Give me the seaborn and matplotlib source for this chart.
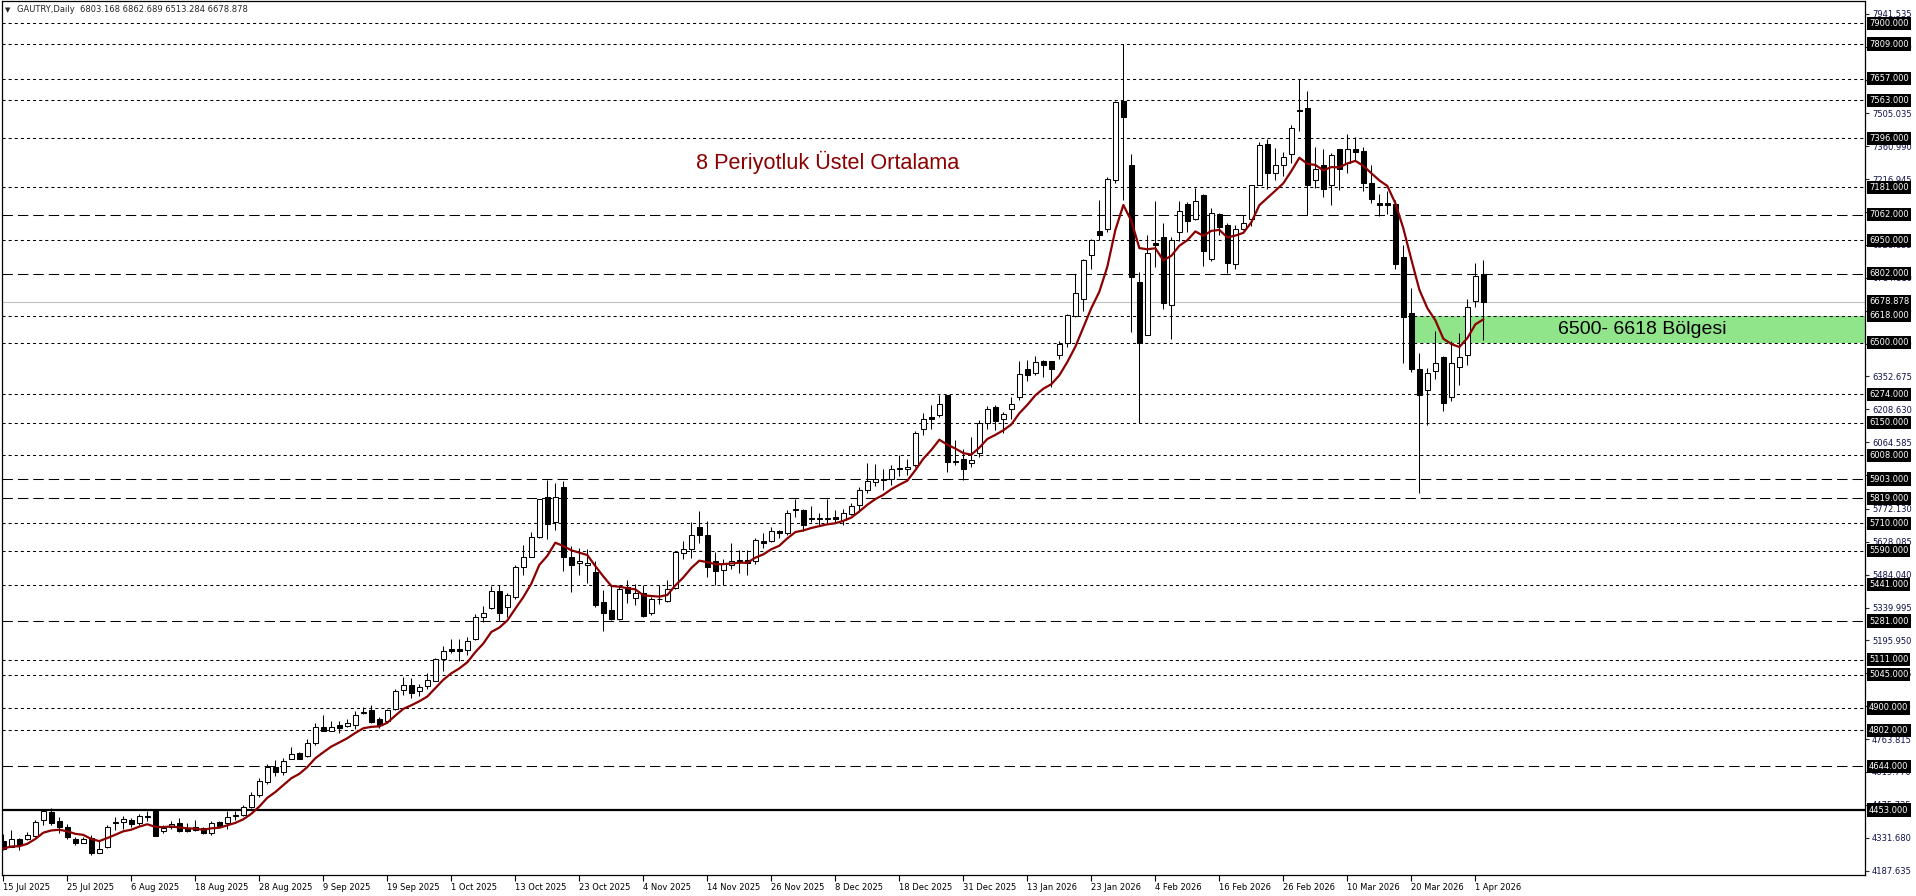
import numpy as np
import pandas as pd
import matplotlib
matplotlib.use("Agg")
import matplotlib.pyplot as plt
import matplotlib.transforms as mtransforms
import seaborn as sns

# ---------------- data (GAUTRY, Daily) ----------------
opens = [4316, 4292, 4327, 4324, 4339, 4409, 4444, 4403, 4380, 4325,
         4310, 4330, 4266, 4290, 4401, 4401, 4409, 4398, 4424, 4450,
         4362, 4380, 4395, 4374, 4377, 4374, 4354, 4401, 4395, 4427,
         4430, 4468, 4518, 4575, 4640, 4620, 4675, 4704, 4690, 4748,
         4815, 4801, 4824, 4821, 4827, 4879, 4891, 4853, 4841, 4897,
         4979, 5002, 4976, 4998, 5020, 5113, 5157, 5157, 5154, 5201,
         5297, 5338, 5411, 5341, 5385, 5516, 5563, 5648, 5826, 5715,
         5867, 5563, 5534, 5525, 5496, 5364, 5329, 5288, 5429, 5382,
         5402, 5315, 5376, 5367, 5426, 5581, 5598, 5694, 5657, 5545,
         5505, 5528, 5545, 5548, 5545, 5630, 5633, 5674, 5668, 5773,
         5767, 5732, 5732, 5726, 5735, 5724, 5750, 5788, 5855, 5890,
         5905, 5902, 5952, 5949, 5963, 6121, 6174, 6182, 6270, 5984,
         5989, 5972, 6016, 6150, 6220, 6165, 6209, 6264, 6384, 6366,
         6422, 6419, 6445, 6498, 6618, 6693, 6883, 6988, 6999, 7213,
         7561, 7278, 6766, 6533, 6936, 6962, 6667, 6986, 7108, 7044,
         7146, 6869, 7064, 7015, 6845, 6997, 7044, 7193, 7371, 7246,
         7278, 7327, 7520, 7529, 7213, 7278, 7190, 7348, 7286, 7348,
         7342, 7202, 7111, 7111, 7108, 6877, 6629, 6384, 6293, 6375,
         6436, 6261, 6396, 6445, 6682, 6803.168]
highs = [4348, 4365, 4330, 4357, 4409, 4456, 4462, 4421, 4392, 4336,
         4336, 4342, 4322, 4386, 4424, 4427, 4418, 4436, 4447, 4453,
         4389, 4406, 4418, 4398, 4409, 4380, 4403, 4403, 4447, 4447,
         4476, 4530, 4595, 4655, 4670, 4680, 4728, 4707, 4766, 4833,
         4868, 4844, 4842, 4853, 4885, 4903, 4912, 4859, 4897, 4982,
         5037, 5031, 5005, 5055, 5119, 5172, 5201, 5204, 5210, 5312,
         5347, 5435, 5437, 5402, 5525, 5613, 5671, 5817, 5899, 5887,
         5893, 5610, 5601, 5598, 5543, 5417, 5437, 5437, 5461, 5443,
         5437, 5385, 5437, 5461, 5586, 5630, 5715, 5765, 5721, 5583,
         5554, 5621, 5592, 5592, 5645, 5665, 5695, 5680, 5768, 5814,
         5770, 5785, 5753, 5814, 5768, 5773, 5800, 5867, 5972, 5969,
         5946, 5966, 6007, 5990, 6115, 6191, 6226, 6273, 6273, 6074,
         6036, 6089, 6162, 6223, 6226, 6197, 6264, 6419, 6425, 6442,
         6425, 6422, 6507, 6626, 6802, 6866, 6956, 7126, 7228, 7561,
         7809, 7327, 6810, 6971, 7120, 7024, 6965, 7120, 7117, 7178,
         7152, 7091, 7070, 7024, 7018, 7062, 7193, 7380, 7395, 7354,
         7336, 7453, 7654, 7605, 7359, 7348, 7330, 7351, 7415, 7400,
         7359, 7278, 7152, 7164, 7126, 6927, 6740, 6454, 6390, 6553,
         6442, 6507, 6544, 6691, 6848, 6862.689]
lows = [4278, 4290, 4278, 4322, 4336, 4389, 4389, 4354, 4327, 4298,
        4307, 4257, 4266, 4287, 4365, 4371, 4380, 4386, 4406, 4339,
        4354, 4368, 4357, 4357, 4360, 4348, 4345, 4380, 4371, 4409,
        4427, 4460, 4510, 4565, 4600, 4605, 4675, 4675, 4687, 4739,
        4798, 4798, 4789, 4815, 4809, 4874, 4833, 4812, 4836, 4891,
        4958, 4944, 4953, 4985, 5017, 5064, 5142, 5104, 5134, 5198,
        5277, 5335, 5280, 5300, 5379, 5484, 5560, 5645, 5639, 5680,
        5502, 5408, 5484, 5449, 5344, 5236, 5285, 5285, 5361, 5350,
        5300, 5309, 5356, 5364, 5423, 5554, 5557, 5624, 5475, 5440,
        5437, 5510, 5493, 5484, 5530, 5601, 5627, 5645, 5659, 5738,
        5677, 5715, 5700, 5706, 5709, 5700, 5744, 5759, 5841, 5873,
        5855, 5876, 5917, 5922, 5955, 6095, 6121, 6174, 5934, 5963,
        5899, 5957, 6001, 6121, 6118, 6103, 6168, 6249, 6334, 6360,
        6352, 6308, 6431, 6480, 6615, 6641, 6825, 6950, 6986, 7199,
        7126, 6547, 6147, 6533, 6831, 6650, 6518, 6948, 6986, 7038,
        6837, 6860, 6971, 6804, 6822, 6994, 7012, 7190, 7175, 7213,
        7231, 7289, 7430, 7059, 7178, 7140, 7102, 7170, 7246, 7301,
        7164, 7111, 7056, 7064, 6825, 6410, 6372, 5840, 6140, 6340,
        6200, 6244, 6314, 6401, 6658, 6513.284]
closes = [4284, 4325, 4298, 4342, 4400, 4450, 4398, 4377, 4336, 4310,
          4328, 4263, 4284, 4377, 4395, 4412, 4392, 4427, 4427, 4339,
          4374, 4392, 4360, 4360, 4365, 4351, 4395, 4383, 4424, 4433,
          4468, 4520, 4580, 4640, 4620, 4668, 4698, 4678, 4745, 4815,
          4798, 4818, 4812, 4833, 4871, 4883, 4839, 4827, 4891, 4976,
          4999, 4967, 4991, 5023, 5116, 5151, 5151, 5148, 5195, 5300,
          5315, 5411, 5318, 5393, 5516, 5563, 5651, 5814, 5706, 5826,
          5560, 5525, 5543, 5534, 5353, 5318, 5288, 5420, 5402, 5402,
          5303, 5379, 5379, 5420, 5583, 5595, 5659, 5657, 5516, 5499,
          5531, 5543, 5548, 5537, 5636, 5624, 5674, 5665, 5756, 5767,
          5703, 5726, 5726, 5732, 5726, 5756, 5785, 5855, 5893, 5902,
          5899, 5946, 5946, 5958, 6103, 6168, 6165, 6232, 5978, 5978,
          5946, 5987, 6147, 6212, 6159, 6188, 6232, 6363, 6357, 6416,
          6401, 6387, 6495, 6620, 6717, 6863, 6950, 6974, 7219, 7555,
          7488, 6790, 6498, 6892, 6930, 6676, 6951, 7079, 7035, 7123,
          6901, 7067, 7009, 6848, 6997, 7024, 7190, 7365, 7246, 7278,
          7313, 7441, 7514, 7190, 7263, 7172, 7321, 7263, 7348, 7336,
          7199, 7129, 7102, 7102, 6845, 6615, 6387, 6270, 6369, 6413,
          6235, 6413, 6436, 6658, 6792, 6678.878]

holidays = ["2025-12-25", "2026-01-01"]
first_day, last_day = "2025-07-15", "2026-04-02"

dotted_levels = [7900, 7809, 7657, 7563, 7396, 7181, 6950, 6618, 6500, 6274,
                 6150, 6008, 5710, 5590, 5441, 5111, 5045, 4900, 4802]
dashed_levels = [7062, 6802, 5903, 5819, 5281, 4644]
support_level = 4453

price_ticks = [4187.635, 4331.680, 4475.725, 4619.770, 4763.815, 4907.860,
               5051.905, 5195.950, 5339.995, 5484.040, 5628.085, 5772.130,
               5920.540, 6064.585, 6208.630, 6352.675, 6496.720, 6640.765,
               6784.810, 6928.855, 7072.900, 7216.945, 7360.990, 7505.035,
               7653.445, 7797.490, 7941.535]

zone_low, zone_high = 6500, 6618
zone_start = "2026-03-20"
zone_label = "6500- 6618 Bölgesi"
ema_label = "8 Periyotluk Üstel Ortalama"
ema_span = 8
symbol = "GAUTRY,Daily"

# ---------------- build ----------------
dates = pd.bdate_range(first_day, last_day, freq="C", holidays=holidays)
o = np.array(opens, float); h = np.array(highs, float)
l = np.array(lows, float); c = np.array(closes, float)
idx = np.arange(len(o))
df = pd.DataFrame({"bar": idx, "close": c})
df["ema"] = df["close"].ewm(span=ema_span, adjust=False).mean()

sns.set_style("white")
plt.rcParams["font.family"] = ["DejaVu Sans"]
plt.rcParams["lines.scale_dashes"] = False

W, H = 1916, 896
fig = plt.figure(figsize=(W / 100, H / 100), dpi=100)
fig.patch.set_facecolor("white")
ax = fig.add_axes([2 / W, 21 / H, 1863 / W, 874 / H])
ax.set_facecolor("white")

ax.set_xlim(-0.16, 232.7)
ax.set_ylim(4168.2, 7997.7)

# green zone
xs0 = dates.get_loc(pd.Timestamp(zone_start))
x_lo, x_hi = ax.get_xlim()
ax.axhspan(zone_low, zone_high, xmin=(xs0 - x_lo) / (x_hi - x_lo), xmax=1,
           facecolor="#90E58A", edgecolor="none", zorder=1)

# horizontal levels
for v in dotted_levels:
    ax.axhline(v, color="black", lw=0.75, dashes=(2.2, 2.2), zorder=2)
for v in dashed_levels:
    ax.axhline(v, color="black", lw=0.75, dashes=(7.5, 3.6), zorder=2)
ax.axhline(support_level, color="black", lw=1.6, zorder=2)
ax.axhline(c[-1], color="#C0C0C0", lw=0.8, zorder=2)

# candles
ax.vlines(idx, l, h, color="black", lw=0.75, zorder=4)
bottom = np.minimum(o, c)
height = np.maximum(np.abs(c - o), 1.0)
up = c >= o
ax.bar(idx[up], height[up], bottom=bottom[up], width=0.6, color="white",
       edgecolor="black", linewidth=0.75, zorder=5)
ax.bar(idx[~up], height[~up], bottom=bottom[~up], width=0.6, color="black",
       edgecolor="black", linewidth=0.75, zorder=5)

# EMA
sns.lineplot(data=df, x="bar", y="ema", ax=ax, color="#8B0000", linewidth=1.6,
             zorder=6, legend=False)

# annotations
ax.text(0.443, 0.815, ema_label, transform=ax.transAxes, color="#8B0000",
        fontsize=15.6, family=["Liberation Sans", "DejaVu Sans"],
        ha="center", va="center", zorder=7)
ax.text(194.3, (zone_low + zone_high) / 2, zone_label, color="black",
        fontsize=14, family=["Liberation Sans", "DejaVu Sans"],
        ha="left", va="center", zorder=7)

# x axis
tick_pos = idx[::8]
tick_lab = [f"{d.day} {d.strftime('%b %Y')}" for d in dates[::8]]
ax.set_xticks(tick_pos)
ax.set_xticklabels(tick_lab, ha="left", fontsize=6)
ax.tick_params(axis="x", direction="out", length=4, width=0.8, pad=2,
               colors="black", bottom=True)
ax.set_xlabel(""); ax.set_ylabel("")

# y axis on right
ax.yaxis.tick_right()
ax.set_yticks(price_ticks)
ax.set_yticklabels([f"{v:.3f}" for v in price_ticks], fontsize=6,
                   color="#10104a")
ax.tick_params(axis="y", direction="out", length=3, width=0.8, pad=2,
               right=True, left=False)

for s in ax.spines.values():
    s.set_visible(True)
    s.set_color("black")
    s.set_linewidth(0.9)

# boxed level labels
tr = mtransforms.blended_transform_factory(fig.transFigure, ax.transData)
for v in dotted_levels + dashed_levels + [support_level, c[-1]]:
    fig.text(1869 / W, v, f"{v:.3f}", transform=tr, color="white",
             fontsize=6, ha="left", va="center", zorder=10,
             bbox=dict(boxstyle="square,pad=0.25", fc="black", ec="none"))

# header
fig.text(5 / W, 1 - 10 / H, "▼", fontsize=5, ha="left", va="center")
fig.text(17 / W, 1 - 10 / H,
         f"{symbol}  {o[-1]:.3f} {h[-1]:.3f} {l[-1]:.3f} {c[-1]:.3f}",
         fontsize=6, ha="left", va="center")

fig.savefig("out.png", dpi=100, facecolor="white")
